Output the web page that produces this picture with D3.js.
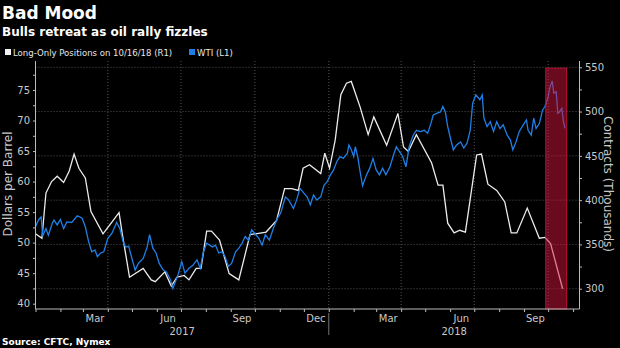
<html>
<head>
  <title>Bad Mood</title>
  <script src="https://d3js.org/d3.v7.min.js"></script>
  <style>
    body { margin: 0; background: #000; }
    svg { display: block; font-family: "DejaVu Sans", sans-serif; }
  </style>
</head>
<body>
  <script>
    var w = 620, h = 348;

    // long-only positions, thousands of contracts (R1)
    var longDates = ["2017-01-01","2017-01-09","2017-01-14","2017-01-21","2017-01-28","2017-02-05","2017-02-12",
      "2017-02-18","2017-02-24","2017-03-04","2017-03-11","2017-03-26","2017-04-15","2017-04-19","2017-04-28",
      "2017-05-15","2017-05-25","2017-05-30","2017-06-11","2017-06-19","2017-06-26","2017-07-05","2017-07-11",
      "2017-07-20","2017-07-26","2017-08-02","2017-08-08","2017-08-18","2017-08-30","2017-09-11","2017-09-25",
      "2017-10-15","2017-10-28","2017-11-07","2017-11-16","2017-11-24","2017-11-30","2017-12-08","2017-12-22",
      "2017-12-27","2018-01-02","2018-01-09","2018-01-16","2018-01-23","2018-01-29","2018-02-09","2018-02-19",
      "2018-02-26","2018-03-14","2018-03-28","2018-04-04","2018-04-10","2018-04-20","2018-05-09","2018-05-17",
      "2018-05-23","2018-05-29","2018-06-06","2018-06-13","2018-06-20","2018-07-04","2018-07-10","2018-07-18",
      "2018-07-29","2018-08-08","2018-08-16","2018-08-23","2018-09-05","2018-09-20","2018-09-27","2018-10-04",
      "2018-10-19"];
    var longValues = [362,357,408,421,427,420,433,452,436,425,387,362,386,362,313,323,310,308,319,303,313,315,310,
      323,323,365,365,355,317,310,361,364,377,413,413,411,436,440,430,453,436,468,519,532,534,505,474,494,462,498,
      460,455,474,442,417,417,374,363,366,364,451,452,418,411,398,363,363,391,357,358,351,300];

    // WTI, dollars per barrel (L1)
    var wtiDates = ["2017-01-01","2017-01-05","2017-01-08","2017-01-10","2017-01-14","2017-01-17","2017-01-22",
      "2017-01-24","2017-01-28","2017-02-01","2017-02-05","2017-02-09","2017-02-15","2017-02-22","2017-02-28",
      "2017-03-04","2017-03-08","2017-03-12","2017-03-16","2017-03-19","2017-03-23","2017-03-27","2017-04-01",
      "2017-04-06","2017-04-12","2017-04-16","2017-04-20","2017-04-23","2017-04-27","2017-05-01","2017-05-05",
      "2017-05-09","2017-05-15","2017-05-20","2017-05-23","2017-05-27","2017-05-31","2017-06-04","2017-06-09",
      "2017-06-13","2017-06-18","2017-06-21","2017-06-25","2017-06-28","2017-07-02","2017-07-06","2017-07-11",
      "2017-07-16","2017-07-21","2017-07-25","2017-07-29","2017-08-02","2017-08-09","2017-08-13","2017-08-17",
      "2017-08-21","2017-08-25","2017-08-29","2017-09-02","2017-09-07","2017-09-11","2017-09-15","2017-09-19",
      "2017-09-23","2017-09-27","2017-10-01","2017-10-06","2017-10-10","2017-10-14","2017-10-19","2017-10-24",
      "2017-10-29","2017-11-02","2017-11-08","2017-11-12","2017-11-18","2017-11-22","2017-11-26","2017-12-01",
      "2017-12-05","2017-12-09","2017-12-13","2017-12-17","2017-12-22","2017-12-26","2017-12-30","2018-01-03",
      "2018-01-07","2018-01-11","2018-01-15","2018-01-19","2018-01-24","2018-01-26","2018-01-29","2018-02-01",
      "2018-02-03","2018-02-06","2018-02-09","2018-02-12","2018-02-17","2018-02-21","2018-02-25","2018-03-01",
      "2018-03-05","2018-03-09","2018-03-13","2018-03-18","2018-03-22","2018-03-26","2018-03-30","2018-04-03",
      "2018-04-07","2018-04-11","2018-04-16","2018-04-20","2018-04-25","2018-04-30","2018-05-04","2018-05-08",
      "2018-05-11","2018-05-16","2018-05-20","2018-05-23","2018-05-26","2018-05-29","2018-06-01","2018-06-05",
      "2018-06-09","2018-06-14","2018-06-18","2018-06-22","2018-06-26","2018-06-29","2018-07-03","2018-07-08",
      "2018-07-11","2018-07-13","2018-07-17","2018-07-21","2018-07-25","2018-07-29","2018-08-02","2018-08-06",
      "2018-08-11","2018-08-15","2018-08-18","2018-08-22","2018-08-26","2018-08-31","2018-09-04","2018-09-06",
      "2018-09-10","2018-09-13","2018-09-16","2018-09-20","2018-09-24","2018-09-27","2018-10-01","2018-10-03",
      "2018-10-06","2018-10-08","2018-10-11","2018-10-13","2018-10-15","2018-10-18","2018-10-20","2018-10-22"];
    var wtiValues = [52.6,53.8,54.2,51.1,52.3,51.2,53.2,53.7,52.9,53.8,52.3,53.4,53.3,54.4,54.0,
      52.6,50.2,48.5,48.8,47.7,48.3,48.5,50.7,51.5,53.3,52.3,50.2,49.3,49.4,47.4,45.5,
      46.6,47.4,49.3,51.3,49.1,48.3,46.6,45.5,45.2,43.9,42.5,43.9,45.0,46.9,45.0,45.8,
      46.3,47.2,45.8,48.5,49.9,49.3,49.6,48.3,48.5,47.7,46.1,46.6,48.5,49.1,49.9,51.0,
      50.4,52.1,51.5,50.7,49.6,51.3,50.4,52.3,54.0,54.8,57.5,57.0,55.6,57.0,58.9,58.1,
      57.5,56.2,57.8,57.0,57.5,59.4,60.0,61.1,61.9,63.3,64.1,63.8,64.6,66.0,65.2,64.1,
      65.7,64.1,61.6,59.3,61.1,62.2,63.8,61.9,61.1,62.2,61.1,62.4,64.1,65.7,64.9,64.1,
      62.4,65.7,67.6,68.4,68.2,68.4,67.9,69.5,70.9,71.2,71.4,72.3,71.4,69.0,67.3,65.2,
      66.0,66.5,65.5,66.3,68.4,72.8,74.2,73.4,74.2,70.4,69.0,69.8,68.2,69.8,68.7,69.3,
      67.6,66.8,65.2,66.5,68.2,69.3,70.1,68.4,67.6,70.4,68.7,69.5,71.7,72.3,73.9,75.3,
      76.5,74.5,74.7,71.2,71.4,72.0,69.8,68.7];

    var leftTicks = [40, 45, 50, 55, 60, 65, 70, 75];
    var rightTicks = [300, 350, 400, 450, 500, 550];
    var monthNames = ["Mar", "Jun", "Sep", "Dec", "Mar", "Jun", "Sep"];
    var monthMids = ["2017-03-16", "2017-06-15", "2017-09-15", "2017-12-16", "2018-03-16", "2018-06-15", "2018-09-15"];
    var yearNames = ["2017", "2018"];
    var highlightDates = ["2018-09-28", "2018-10-24"];

    var parse = d3.utcParse("%Y-%m-%d");
    var longData = longDates.map(function(d, i){ return {date: parse(d), v: longValues[i]}; });
    var wtiData = wtiDates.map(function(d, i){ return {date: parse(d), v: wtiValues[i]}; });

    // plot box (avoid the global name "top", it belongs to window)
    var pL = 35.5, pR = 579.5, pT = 61, pB = 309;
    var x = d3.scaleUtc().domain([parse("2017-01-01"), parse("2018-11-09")]).range([pL, pR]);
    var yL = d3.scaleLinear().domain([39.13, 79.75]).range([pB, pT]);
    var yR = d3.scaleLinear().domain([277.1, 557.1]).range([pB, pT]);

    var svg = d3.select("body").append("svg").attr("width", w).attr("height", h)
      .style("background", "#000");

    // titles
    svg.append("text").attr("x", 2).attr("y", 19).text("Bad Mood")
      .attr("fill", "#fff").attr("font-weight", "bold").attr("font-size", 17);
    svg.append("text").attr("x", 2).attr("y", 36).text("Bulls retreat as oil rally fizzles")
      .attr("fill", "#fff").attr("font-weight", "bold").attr("font-size", 12);

    // legend
    var legend = [{label: "Long-Only Positions on 10/16/18 (R1)", color: "#f2f2f2", x: 5},
                  {label: "WTI (L1)", color: "#1f7fe6", x: 189}];
    var lg = svg.selectAll(".lg").data(legend).enter().append("g")
      .attr("transform", function(d){ return "translate(" + d.x + ",49)"; });
    lg.append("rect").attr("width", 6).attr("height", 6).attr("fill", function(d){ return d.color; });
    lg.append("text").attr("x", 8).attr("y", 6.5).text(function(d){ return d.label; })
      .attr("fill", "#e6e6e6").attr("font-size", 9.5).style("font-stretch", "condensed");

    // gridlines
    svg.selectAll(".hg").data(rightTicks).enter().append("line")
      .attr("x1", pL).attr("x2", pR)
      .attr("y1", function(d){ return yR(d); }).attr("y2", function(d){ return yR(d); })
      .attr("stroke", "#555").attr("stroke-dasharray", "1,2");
    var quarters = x.ticks(d3.utcMonth.every(3)).filter(function(d){ return x(d) > pL + 1; });
    svg.selectAll(".vg").data(quarters).enter().append("line")
      .attr("x1", function(d){ return x(d); }).attr("x2", function(d){ return x(d); })
      .attr("y1", pT).attr("y2", pB)
      .attr("stroke", "#555").attr("stroke-dasharray", "1,2");

    // lines
    var lineL = d3.line().x(function(d){ return x(d.date); }).y(function(d){ return yL(d.v); });
    var lineR = d3.line().x(function(d){ return x(d.date); }).y(function(d){ return yR(d.v); });
    svg.append("path").datum(longData).attr("d", lineR)
      .attr("fill", "none").attr("stroke", "#ececec").attr("stroke-width", 1.3);
    svg.append("path").datum(wtiData).attr("d", lineL)
      .attr("fill", "none").attr("stroke", "#1f7fe6").attr("stroke-width", 1.3);

    // highlighted weeks
    svg.append("rect")
      .attr("x", x(parse(highlightDates[0])))
      .attr("width", x(parse(highlightDates[1])) - x(parse(highlightDates[0])))
      .attr("y", yR(549)).attr("height", pB - yR(549))
      .attr("fill", "#d4143c").attr("fill-opacity", 0.5)
      .attr("stroke", "#d4143c").attr("stroke-opacity", 0.8);

    // axes
    var axisL = d3.axisLeft(yL).tickValues(d3.range(40, 77.6, 2.5)).tickSize(2.5).tickPadding(3)
      .tickFormat(function(d){ return d % 5 === 0 ? d : ""; });
    var gL = svg.append("g").attr("transform", "translate(" + pL + ",0)").call(axisL);
    var axisR = d3.axisRight(yR).tickValues(d3.range(300, 551, 25)).tickSize(2.5).tickPadding(3)
      .tickFormat(function(d){ return d % 50 === 0 ? d : ""; });
    var gR = svg.append("g").attr("transform", "translate(" + pR + ",0)").call(axisR);
    var axisB = d3.axisBottom(x).ticks(d3.utcMonth.every(1)).tickSize(3).tickFormat("");
    var gB = svg.append("g").attr("transform", "translate(0," + pB + ")").call(axisB);
    [gL, gR, gB].forEach(function(g){
      g.select(".domain").attr("stroke", "#bbb");
      g.selectAll("line").attr("stroke", "#bbb");
      g.selectAll("text").attr("fill", "#c8c8c8").attr("font-size", 10).attr("font-family", "DejaVu Sans");
    });
    gL.select(".domain").attr("d", "M0," + pT + "V" + pB);
    gR.select(".domain").attr("d", "M0," + pT + "V" + pB);
    gB.select(".domain").attr("d", "M" + pL + ",0H" + pR);

    // month and year labels
    svg.selectAll(".ml").data(monthNames).enter().append("text")
      .attr("x", function(d, i){ return x(parse(monthMids[i])); }).attr("y", 322)
      .attr("text-anchor", "middle").text(function(d){ return d; })
      .attr("fill", "#c8c8c8").attr("font-size", 10);
    var yearBounds = [[parse("2017-01-01"), parse("2018-01-01")], [parse("2018-01-01"), x.domain()[1]]];
    svg.selectAll(".yl").data(yearNames).enter().append("text")
      .attr("x", function(d, i){ return (x(yearBounds[i][0]) + x(yearBounds[i][1])) / 2; }).attr("y", 335)
      .attr("text-anchor", "middle").text(function(d){ return d; })
      .attr("fill", "#c8c8c8").attr("font-size", 10);
    svg.append("line").attr("x1", x(parse("2018-01-01"))).attr("x2", x(parse("2018-01-01")))
      .attr("y1", 313).attr("y2", 335).attr("stroke", "#777");

    // axis titles
    svg.append("text").attr("transform", "translate(12,184) rotate(-90)").attr("text-anchor", "middle")
      .text("Dollars per Barrel").attr("fill", "#c8c8c8").attr("font-size", 12);
    svg.append("text").attr("transform", "translate(604,184) rotate(90)").attr("text-anchor", "middle")
      .text("Contracts (Thousands)").attr("fill", "#c8c8c8").attr("font-size", 12);

    // source
    svg.append("text").attr("x", 2).attr("y", 345).text("Source: CFTC, Nymex")
      .attr("fill", "#fff").attr("font-weight", "bold").attr("font-size", 9);
  </script>
</body>
</html>
